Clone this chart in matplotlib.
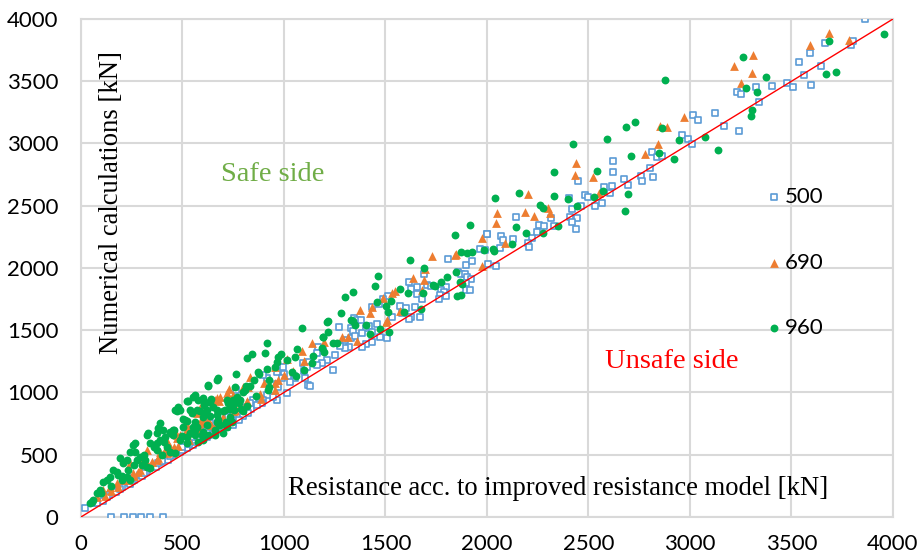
import numpy as np
import matplotlib.pyplot as plt

# series 500 (x = model resistance, y = numerical result), kN
x500 = [150, 210, 255, 295, 340, 405,
        20, 61, 94, 127, 159, 192, 225, 258, 291, 324, 356, 389, 422, 455, 488, 521, 553, 586, 619, 652, 685, 718, 750,
        110, 175, 240, 300, 370, 430, 500, 560, 630, 690, 740, 780, 800, 840,
        80, 140, 200, 260, 320, 380, 440, 500, 560, 620, 680, 740, 820, 880, 950, 1050, 1100, 1250,
        130, 190, 250, 310, 400, 470, 530, 600, 660, 720,
        1169, 1190, 1161, 1120, 1095, 1112, 1210, 1186, 1161, 1120, 1105, 1054, 1030, 1000, 964, 997, 989, 964, 972,
        967, 944, 918, 898, 918, 898, 890, 849, 832, 865, 824, 796, 780, 747, 718, 693, 747, 718, 676, 635, 619,
        586, 570, 545, 763, 734, 1241, 1128, 1015, 1300, 1330,
        2002, 1965, 1992, 1808, 1898, 1926, 1857, 1870, 1890, 1903, 1920, 1895, 1897, 1915, 2003, 2044, 1688, 1655,
        1703, 1723, 1796, 1775, 1790, 1617, 1626, 1657, 1767, 1764, 1796, 1678, 1511, 1489, 1469, 1435, 1571, 1600,
        1644, 1580, 1627, 1670, 1616, 1532, 1345, 1361, 1381, 1404, 1420, 1432, 1460, 1272, 1328, 1340, 1384, 1351,
        1507, 1473, 1432, 1404, 1384, 1322, 1302, 1276,
        2621, 2622, 2677, 2693, 2759, 2762, 2804, 2818, 2577, 2617, 2606, 2568, 2532, 2447, 2402, 2481, 2496, 2419,
        2463, 2409, 2443, 2417, 2438, 2141, 2258, 2279, 2315, 2328, 2245, 2001, 2069, 2080, 2126, 2220, 2204, 2208, 2064,
        3860, 3665, 3593, 3537, 3793, 3805, 3644, 3562, 3476, 3509, 3598, 3402, 3325, 3340, 3230, 3250, 3123, 3015,
        3040, 3169, 3243, 2960, 2988, 3010, 2811, 2836, 2860]
y500 = [0, 0, 0, 0, 0, 0,
        70, 110, 150, 177, 217, 243, 283, 311, 337, 377, 404, 444, 471, 498, 525, 552, 578, 618, 645, 672, 699, 725, 753,
        130, 200, 265, 330, 400, 460, 540, 600, 660, 720, 770, 800, 830, 870,
        110, 175, 240, 300, 360, 430, 490, 560, 620, 690, 750, 800, 880, 950, 1020, 1130, 1170, 1300,
        160, 225, 290, 350, 450, 520, 590, 650, 710, 780,
        1363, 1333, 1315, 1245, 1234, 1207, 1261, 1234, 1221, 1060, 1119, 1114, 1087, 1149, 1167, 1207, 1114, 1068, 1047,
        940, 966, 1114, 1141, 980, 940, 913, 940, 913, 900, 833, 811, 779, 846, 806, 819, 739, 739, 753, 753, 725,
        712, 645, 645, 1020, 980, 1181, 1052, 996, 1420, 1440,
        2276, 2153, 2145, 2075, 2024, 2054, 1965, 1949, 1949, 1928, 1912, 1877, 1823, 1823, 2030, 2016, 1954, 1850,
        1863, 1855, 1845, 1826, 1805, 1888, 1829, 1791, 1783, 1753, 1775, 1749, 1778, 1749, 1711, 1687, 1695, 1679,
        1687, 1641, 1604, 1604, 1588, 1604, 1601, 1582, 1585, 1518, 1537, 1488, 1550, 1526, 1516, 1497, 1475, 1454,
        1438, 1448, 1403, 1387, 1368, 1368, 1355, 1373,
        2859, 2774, 2712, 2669, 2739, 2699, 2803, 2733, 2653, 2659, 2605, 2525, 2500, 2701, 2565, 2586, 2573, 2474,
        2496, 2407, 2404, 2369, 2313, 2410, 2348, 2340, 2404, 2340, 2292, 2273, 2259, 2225, 2233, 2239, 2198, 2171, 2163,
        4000, 3805, 3729, 3657, 3789, 3823, 3622, 3550, 3488, 3456, 3470, 3464, 3451, 3333, 3414, 3395, 3242, 3231,
        3191, 3138, 3103, 3066, 3036, 2998, 2929, 2894, 2902]

# series 690
x690 = [3685, 3591, 3782, 3312, 3218, 3304, 3251, 2970, 2852, 2888, 2844,
        2777, 2438, 2433, 2524, 2553, 2200, 2299, 2310, 2187, 2233, 2049, 2046, 2089, 1974,
        1849, 1841, 1729, 1974, 1695, 1637, 1691, 1681, 1549, 1532, 1489, 1432, 1424, 1374, 1507, 1502, 1571,
        1286, 1317, 1358, 1199, 1136,
        1087, 1013, 957, 834, 731, 668, 681, 586, 570, 956, 956, 887, 1000, 972, 1046, 796, 824, 602, 586,
        520, 524, 471, 755, 632, 660,
        660, 685, 718, 750, 570, 586, 430, 438, 414, 389, 422, 373, 348, 324, 291, 258, 208, 176, 143, 110,
        471, 488, 521, 586, 602, 759, 324, 283, 241, 77,
        120, 180, 230, 280, 330, 380, 430, 480, 530, 580, 640, 700, 760, 820, 880, 150, 260, 350, 460, 620, 900, 1100]
y690 = [3890, 3789, 3831, 3713, 3620, 3566, 3483, 3213, 3143, 3135, 2998,
        2916, 2846, 2744, 2728, 2605, 2597, 2479, 2444, 2452, 2415, 2442, 2361, 2198, 2243,
        2110, 2107, 2096, 2018, 1992, 1920, 1901, 1823, 1815, 1797, 1757, 1689, 1641, 1660, 1582, 1569, 1657,
        1448, 1448, 1416, 1408, 1395,
        1333, 1271, 1202, 1122, 1026, 958, 932, 865, 846, 1020, 1074, 950, 1138, 1100, 1173, 1042, 1047, 779, 765,
        739, 704, 659, 854, 765, 720,
        940, 966, 993, 980, 833, 873, 592, 565, 538, 525, 511, 458, 444, 431, 377, 351, 297, 271, 243, 217,
        632, 659, 672, 712, 753, 859, 538, 471, 431, 163,
        170, 240, 300, 360, 410, 470, 520, 570, 620, 690, 740, 800, 880, 930, 990, 210, 330, 440, 560, 760, 1080, 1250]

# series 960
x960 = [3956, 3685, 3263, 3376, 3672, 3721, 3277, 3330, 3305, 3300, 2878, 2862, 3074, 2947, 3136, 2846, 2923,
        2683, 2729, 2591, 2711, 2422, 2543, 2329, 2332, 2399, 2573, 2527, 2442, 2695, 2678, 2041, 2159, 2263, 2277,
        2143, 2192, 2274, 2348, 2122, 2031,
        1918, 1841, 1872, 1900, 1925, 1985, 2034, 1621, 1690, 1846, 1803, 1775, 1736, 1744, 1869, 1879, 1854, 1870,
        1463, 1447, 1573, 1611, 1686, 1340, 1300, 1458, 1526, 1502, 1512, 1591, 1675, 1279, 1328, 1341, 1348, 1404,
        1473, 1517, 1425, 1217, 1218, 1190, 1243, 1263, 1087,
        918, 905, 842, 816, 763, 676, 627, 562, 553, 529, 479, 463, 504, 520, 870, 875, 914, 972, 983, 1013, 1054,
        956, 967, 1039, 1058, 1098, 1138, 1144, 1194, 1210, 1186, 1195, 832, 813, 806, 926, 923, 928, 862, 783, 777,
        816, 788, 800, 755, 734, 711, 671, 632, 642, 673, 668, 714, 601, 607, 578, 586, 606, 635, 570, 561, 602,
        438, 455, 405, 1062,
        627, 668, 759, 521, 488, 471, 537, 545, 570, 606, 635, 619, 668, 676, 685, 619, 602, 627, 561, 561, 512, 504,
        455, 438, 414, 389, 373, 389, 381, 373, 332, 324, 340, 266, 258, 241, 266, 291, 274, 315, 324, 340, 373, 397,
        192, 208, 225, 159, 176, 143, 127, 110, 225, 241, 200, 94, 79, 53, 44, 422, 438, 463, 488, 521, 521, 537,
        594, 602, 578, 660, 660, 701, 718, 742, 734, 718, 726, 750, 767,
        60, 100, 150, 200, 260, 310, 360, 410, 460, 500, 550, 600, 650, 700, 750, 800, 850, 300, 180, 230]
y960 = [3879, 3821, 3695, 3537, 3558, 3572, 3446, 3411, 3269, 3218, 3510, 3127, 3052, 3030, 2948, 2926, 2878,
        3130, 3175, 3039, 2902, 2993, 2777, 2771, 2576, 2554, 2618, 2573, 2500, 2597, 2460, 2560, 2600, 2508, 2484,
        2329, 2281, 2284, 2340, 2195, 2153,
        2345, 2263, 2131, 2123, 2128, 2145, 2134, 2064, 2000, 1970, 1928, 1885, 1861, 1855, 1890, 1869, 1775, 1783,
        1936, 1853, 1834, 1797, 1802, 1807, 1765, 1724, 1732, 1695, 1644, 1644, 1668, 1641, 1582, 1572, 1540, 1545,
        1510, 1488, 1470, 1572, 1488, 1448, 1400, 1400, 1516,
        1400, 1317, 1312, 1280, 1146, 1114, 1055, 980, 966, 932, 881, 859, 785, 773, 1167, 1146, 1191, 1288, 1307, 1261, 1288,
        1207, 1243, 1167, 1133, 1181, 1235, 1291, 1448, 1569, 1355, 1325, 1050, 1052, 1020, 1100, 1020, 1044, 974, 940, 913,
        894, 865, 851, 859, 865, 859, 859, 926, 950, 779, 765, 765, 953, 913, 940, 854, 833, 814, 720, 659, 664,
        685, 659, 699, 1347,
        1060, 1100, 1047, 934, 859, 854, 859, 833, 859, 900, 926, 859, 819, 753, 739, 739, 685, 659, 765, 699, 779, 725,
        699, 672, 645, 618, 592, 753, 712, 672, 672, 659, 592, 592, 578, 525, 525, 484, 458, 458, 404, 391, 538, 498,
        471, 431, 458, 377, 364, 324, 297, 283, 324, 297, 297, 217, 190, 123, 110, 565, 525, 511, 618, 645, 592, 672,
        659, 618, 605, 659, 699, 672, 725, 765, 806, 940, 913, 940, 966,
        140, 190, 250, 330, 420, 500, 560, 600, 700, 650, 720, 800, 880, 850, 900, 1000, 1100, 420, 340, 380]

series_names = ['500', '690', '960']
serif = 'Liberation Serif'

fig = plt.figure(figsize=(9.19, 5.60), dpi=100)
ax = fig.add_axes([0.0881, 0.0768, 0.8836, 0.8893])

ax.scatter(x500, y500, marker='s', s=22, facecolors='white', edgecolors='#5B9BD5', linewidths=1.2,
           label=series_names[0], zorder=3)
ax.scatter(x690, y690, marker='^', s=40, color='#ED7D31', linewidths=0, label=series_names[1], zorder=4)
ax.scatter(x960, y960, marker='o', s=32, color='#00B050', linewidths=0, label=series_names[2], zorder=5)

# line of equality
ax.plot([0, 4000], [0, 4000], color='#FF0000', lw=1.0, zorder=6)

ax.set_xlim(0, 4000)
ax.set_ylim(0, 4000)
ax.set_xticks(np.arange(0, 4001, 500))
ax.set_yticks(np.arange(0, 4001, 500))
ax.grid(True, color='#D9D9D9', lw=1.5, zorder=0)
ax.set_axisbelow(True)
for sp in ax.spines.values():
    sp.set_color('#D9D9D9')
    sp.set_linewidth(1.5)
ax.tick_params(length=0, labelsize=16)
ax.tick_params(axis='y', pad=16)
ax.tick_params(axis='x', pad=12)
for lab in ax.get_xticklabels() + ax.get_yticklabels():
    lab.set_family('Lato')

ax.text(946, 2747, 'Safe side', color='#70AD47', fontsize=20.5, family=serif, ha='center', va='center')
ax.text(2911, 1245, 'Unsafe side', color='#FF0000', fontsize=20.5, family=serif, ha='center', va='center')
ax.text(2350, 225, 'Resistance acc. to improved resistance model [kN]', fontsize=19.2, family=serif,
        ha='center', va='center')
ax.text(148, 2526, 'Numerical calculations [kN]', fontsize=19.2, family=serif, rotation=90,
        ha='center', va='center')

leg = ax.legend(loc='upper left', bbox_to_anchor=(0.826, 0.685), frameon=False, fontsize=16,
                labelspacing=2.05, handletextpad=0.0, handlelength=1.0, borderpad=0)
for t in leg.get_texts():
    t.set_family('Lato')

fig.savefig('out.png', dpi=100)
